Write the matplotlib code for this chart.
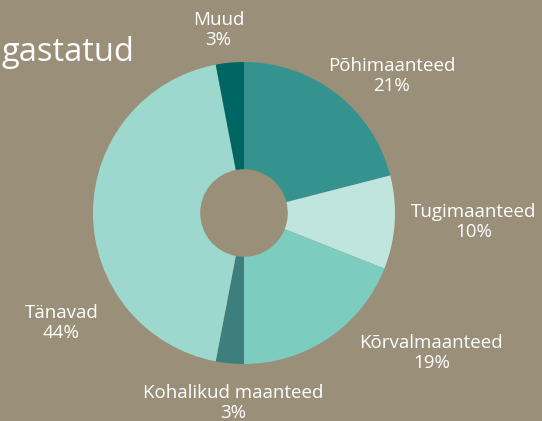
import matplotlib
matplotlib.use("Agg")
from matplotlib import pyplot as plt

# road network share by road type
names = ["Põhimaanteed", "Tugimaanteed", "Kõrvalmaanteed", "Kohalikud maanteed", "Tänavad", "Muud"]
shares = [21, 10, 19, 3, 44, 3]
colors = ["#35938f", "#c0e5de", "#7ccdc0", "#3d7f7c", "#9dd8cf", "#006663"]

bg = "#9a9079"
plt.rcParams["font.family"] = ["Open Sans", "DejaVu Sans"]

fig = plt.figure(figsize=(5.42, 4.21), dpi=100, facecolor=bg)
ax = fig.add_axes([0, 0, 1, 1])
ax.set_facecolor(bg)

wedges, _ = ax.pie(
    shares,
    colors=colors,
    startangle=90,
    counterclock=False,
    radius=1.0,
    wedgeprops=dict(width=0.71, linewidth=0),
)

# label positions in data units, pie centre at (0, 0)
label_xy = [(0.98, 0.91), (1.52, -0.06), (1.24, -0.93), (-0.07, -1.26), (-1.21, -0.73), (-0.17, 1.21)]
for name, val, (x, y) in zip(names, shares, label_xy):
    ax.text(x, y, f"{name}\n{val}%", ha="center", va="center",
            color="white", fontsize=13.5, linespacing=1.15)

ax.text(0.003, 0.875, "gastatud", transform=fig.transFigure,
        ha="left", va="center", color="white", fontsize=23.5)

ax.set_xlim(-244 / 151, 298 / 151)
ax.set_ylim(-208 / 151, 213 / 151)
ax.set_aspect("auto")
ax.axis("off")

fig.savefig("out.png", dpi=100, facecolor=bg)
